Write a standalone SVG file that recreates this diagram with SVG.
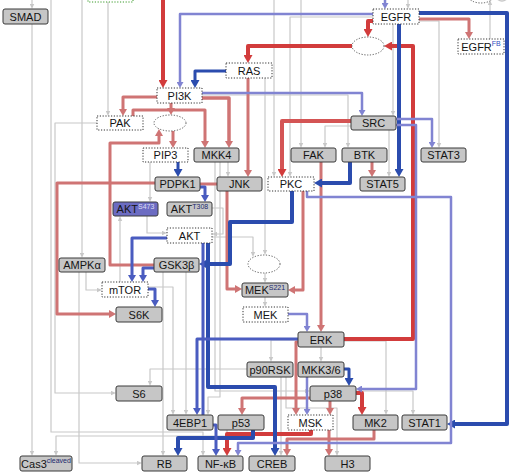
<svg xmlns="http://www.w3.org/2000/svg" width="519" height="475" viewBox="0 0 519 475">
<style>
.bg{fill:#ffffff}
.c{fill:none;stroke-linejoin:round}
.g{stroke:#c8c8c8;stroke-width:1.2}
.p{stroke:#cf7474;stroke-width:3}
.r{stroke:#d23c3c;stroke-width:4}
.b{stroke:#2b4cae;stroke-width:4}
.m{stroke:#4a5cc0;stroke-width:3}
.l{stroke:#8184d2;stroke-width:2.5}
.box{fill:#c6c6c6;stroke:#3a3a3a;stroke-width:1}
.dot{fill:#ffffff;stroke:#333;stroke-width:1;stroke-dasharray:1.2 1.6}
.ell{fill:#ffffff;stroke:#555;stroke-width:1;stroke-dasharray:1.2 1.6}
text{font-family:"Liberation Sans",Arial,sans-serif;font-size:11px;fill:#141414;text-anchor:middle}
.sup{font-size:7px;fill:#1c2a6e}
</style>
<defs>
<marker id="ag" markerUnits="userSpaceOnUse" markerWidth="5" markerHeight="5" viewBox="0 0 5 5" refX="0" refY="2.5" orient="auto"><path d="M0,0.3L5,2.5L0,4.7z" fill="#c8c8c8"/></marker>
<marker id="ap" markerUnits="userSpaceOnUse" markerWidth="7" markerHeight="8" viewBox="0 0 7 8" refX="0" refY="4" orient="auto"><path d="M0,0L7,4L0,8z" fill="#cf7474"/></marker>
<marker id="ar" markerUnits="userSpaceOnUse" markerWidth="8" markerHeight="9" viewBox="0 0 8 9" refX="0" refY="4.5" orient="auto"><path d="M0,0L8,4.5L0,9z" fill="#d23c3c"/></marker>
<marker id="ab" markerUnits="userSpaceOnUse" markerWidth="8" markerHeight="9" viewBox="0 0 8 9" refX="0" refY="4.5" orient="auto"><path d="M0,0L8,4.5L0,9z" fill="#2b4cae"/></marker>
<marker id="am" markerUnits="userSpaceOnUse" markerWidth="7" markerHeight="8" viewBox="0 0 7 8" refX="0" refY="4" orient="auto"><path d="M0,0L7,4L0,8z" fill="#4a5cc0"/></marker>
<marker id="al" markerUnits="userSpaceOnUse" markerWidth="6" markerHeight="7" viewBox="0 0 6 7" refX="0" refY="3.5" orient="auto"><path d="M0,0L6,3.5L0,7z" fill="#8184d2"/></marker>
</defs>
<rect class="bg" x="0" y="0" width="519" height="475"/>

<g id="connectors">
<!-- gray -->
<path class="c g" marker-end="url(#ag)" d="M32,-2V4"/>
<path class="c g" marker-end="url(#ag)" d="M32,24V451"/>
<path class="c g" marker-end="url(#ag)" d="M82,-2V253"/>
<path class="c g" marker-end="url(#ag)" d="M108,-2V111"/>
<path class="c g" marker-end="url(#ag)" d="M97,123H55V393H111"/>
<path class="c g" marker-end="url(#ag)" d="M51,-2V432H203V451"/>
<path class="c g" marker-end="url(#ag)" d="M227,430V436H56V451"/>
<path class="c g" marker-end="url(#ag)" d="M86,272V290H97"/>
<path class="c g" marker-end="url(#ag)" d="M79,272V463H137"/>
<path class="c g" marker-end="url(#ag)" d="M150,162V197"/>
<path class="c g" marker-end="url(#ag)" d="M147,216V233H162"/>
<path class="c g" marker-end="url(#ag)" d="M212,208H223V234H217"/>
<path class="c g" marker-end="url(#ag)" d="M120,282V221"/>
<path class="c g" marker-end="url(#ag)" d="M148,287H173V410"/>
<path class="c g" marker-end="url(#ag)" d="M163,272V451"/>
<path class="c g" marker-end="url(#ag)" d="M186,272V410"/>
<path class="c g" marker-end="url(#ag)" d="M228,162V172"/>
<path class="c g" marker-end="url(#ag)" d="M215,162V391H305"/>
<path class="c g" marker-end="url(#ag)" d="M220,162V397H208V410"/>
<path class="c g" marker-end="url(#ag)" d="M212,237H253V252"/>
<path class="c g" marker-end="url(#ag)" d="M265,78V250"/>
<path class="c g" marker-end="url(#ag)" d="M265,273V278"/>
<path class="c g" marker-end="url(#ag)" d="M265,297V302"/>
<path class="c g" marker-end="url(#ag)" d="M202,95H348V143"/>
<path class="c g" marker-end="url(#ag)" d="M393,24V111"/>
<path class="c g" marker-end="url(#ag)" d="M419,21H439V143"/>
<path class="c g" marker-end="url(#ag)" d="M373,17H290V172"/>
<path class="c g" marker-end="url(#ag)" d="M301,-2V143"/>
<path class="c g" marker-end="url(#ag)" d="M274,-2V172"/>
<path class="c g" marker-end="url(#ag)" d="M351,126H325V143"/>
<path class="c g" marker-end="url(#ag)" d="M389,130V172"/>
<path class="c g" marker-end="url(#ag)" d="M298,340H271V357"/>
<path class="c g" marker-end="url(#ag)" d="M321,347V357"/>
<path class="c g" marker-end="url(#ag)" d="M344,341H386V410"/>
<path class="c g" marker-end="url(#ag)" d="M356,391H413V410"/>
<path class="c g" marker-end="url(#ag)" d="M247,369H150V381"/>
<path class="c g" marker-end="url(#ag)" d="M281,377V451"/>
<path class="c g" marker-end="url(#ag)" d="M286,377V408H337V451"/>
<path class="c g" marker-end="url(#ag)" d="M490,39V5"/>
<path class="c g" d="M496,-2Q502,4 508,-2"/>
<path class="c g" marker-end="url(#ag)" d="M408,-2V4"/>
<!-- pink -->
<path class="c p" marker-end="url(#ap)" d="M157,97H123V109"/>
<path class="c p" marker-end="url(#ap)" d="M133,116V110H205V141"/>
<path class="c p" marker-end="url(#ap)" d="M171,103V108"/>
<path class="c p" style="stroke-width:3.5" marker-end="url(#ap)" d="M202,98H229V141"/>
<path class="c p" marker-end="url(#ap)" d="M173,131V141"/>
<path class="c p" marker-end="url(#ap)" d="M154,265H110V143H159V136"/>
<path class="c p" marker-end="url(#ap)" d="M155,183H57V314H109"/>
<path class="c p" marker-end="url(#ap)" d="M200,184H227V289H235"/>
<path class="c p" marker-end="url(#ap)" d="M303,191V290H295"/>
<path class="c p" marker-end="url(#ap)" d="M248,78V170"/>
<path class="c p" marker-end="url(#ap)" d="M419,19H469V32"/>
<path class="c p" marker-end="url(#ap)" d="M321,162V325"/>
<path class="c p" marker-end="url(#ap)" d="M372,162V170"/>
<path class="c p" marker-end="url(#ap)" d="M299,342H296V408"/>
<path class="c p" marker-end="url(#ap)" d="M330,401V408"/>
<path class="c p" marker-end="url(#ap)" d="M310,398H242V408"/>
<path class="c p" marker-end="url(#ap)" d="M329,430V449"/>
<path class="c p" marker-end="url(#ap)" d="M374,430V439H287V449"/>
<!-- red -->
<path class="c r" marker-end="url(#ar)" d="M163,-2V80"/>
<path class="c r" marker-end="url(#ar)" d="M352,46H248V55"/>
<path class="c r" marker-end="url(#ar)" d="M374,21H368V29"/>
<path class="c r" marker-end="url(#ar)" d="M344,339H413V46H392"/>
<path class="c r" marker-end="url(#ar)" d="M356,393H362V407"/>
<path class="c r" marker-end="url(#ar)" d="M311,430V434H227V448"/>
<path class="c r" style="stroke:#d45454" marker-end="url(#ar)" d="M351,121H282V169"/>
<!-- blue -->
<path class="c b" style="stroke-width:3" marker-end="url(#ab)" d="M226,71H195V80"/>
<path class="c b" marker-end="url(#ab)" d="M399,24V169"/>
<path class="c b" marker-end="url(#ab)" d="M419,13H507V424H455"/>
<path class="c b" marker-end="url(#ab)" d="M350,162V183H322"/>
<path class="c b" marker-end="url(#ab)" d="M292,191V222H230V264H207"/>
<path class="c b" marker-end="url(#ab)" d="M208,243V387H275V448"/>
<path class="c b" marker-end="url(#ab)" d="M253,430V438H178V448"/>
<path class="c b" style="stroke-width:3" marker-end="url(#ab)" d="M344,369H349V378"/>
<path class="c b" style="stroke-width:3" marker-end="url(#ab)" d="M178,162V169"/>
<!-- medium blue -->
<path class="c m" marker-end="url(#am)" d="M203,243V425H216V449"/>
<path class="c m" marker-end="url(#am)" d="M167,238H132V275"/>
<path class="c m" marker-end="url(#am)" d="M154,268H143V275"/>
<path class="c m" marker-end="url(#am)" d="M148,289H155V300"/>
<path class="c m" marker-end="url(#am)" d="M200,187H205V195"/>
<path class="c m" marker-end="url(#am)" d="M298,339H197V408"/>
<!-- lavender -->
<path class="c l" marker-end="url(#al)" d="M373,14H180V82"/>
<path class="c l" marker-end="url(#al)" d="M202,93H362V110"/>
<path class="c l" marker-end="url(#al)" d="M396,119H432V142"/>
<path class="c l" marker-end="url(#al)" d="M396,125H416V389H362"/>
<path class="c l" marker-end="url(#al)" d="M307,191V197H451V443H238V450"/>
<path class="c l" marker-end="url(#al)" d="M288,314H307V326"/>
<path class="c l" marker-end="url(#al)" d="M307,377V409"/>
<path class="c l" marker-end="url(#al)" d="M385,-2V3"/>
</g>

<g id="node-top-green"><rect x="88" y="-14" width="45" height="16" fill="#fff" stroke="#3a9a2a" stroke-width="1" stroke-dasharray="1.2 1.6"/></g>
<g id="node-top-ellipse"><ellipse class="ell" cx="481" cy="-6" rx="14" ry="9"/></g>
<g id="node-SMAD"><rect class="box" x="3" y="9" width="45" height="15" rx="2"/><text x="25.5" y="20.5">SMAD</text></g>
<g id="node-EGFR"><rect class="dot" x="373" y="9" width="46" height="15"/><text x="396" y="20.5">EGFR</text></g>
<g id="node-EGFRFB"><rect class="dot" x="458" y="39" width="46" height="15"/><text x="481" y="50.5">EGFR<tspan class="sup" style="fill:#3050c0" dy="-4.5">FB</tspan></text></g>
<g id="node-ellipse1"><ellipse class="ell" cx="368" cy="46" rx="16" ry="9"/></g>
<g id="node-RAS"><rect class="dot" x="226" y="63" width="46" height="15"/><text x="249" y="74.5">RAS</text></g>
<g id="node-PI3K"><rect class="dot" x="157" y="88" width="45" height="15"/><text x="179.5" y="99.5">PI3K</text></g>
<g id="node-PAK"><rect class="dot" x="97" y="116" width="46" height="14"/><text x="120" y="127">PAK</text></g>
<g id="node-ellipse2"><ellipse class="ell" cx="170" cy="123" rx="16" ry="8"/></g>
<g id="node-SRC"><rect class="box" x="351" y="116" width="45" height="14" rx="2"/><text x="373.5" y="127">SRC</text></g>
<g id="node-PIP3"><rect class="dot" x="143" y="148" width="45" height="14"/><text x="165.5" y="159">PIP3</text></g>
<g id="node-MKK4"><rect class="box" x="194" y="148" width="45" height="14" rx="2"/><text x="216.5" y="159">MKK4</text></g>
<g id="node-FAK"><rect class="box" x="291" y="148" width="45" height="14" rx="2"/><text x="313.5" y="159">FAK</text></g>
<g id="node-BTK"><rect class="box" x="342" y="148" width="45" height="14" rx="2"/><text x="364.5" y="159">BTK</text></g>
<g id="node-STAT3"><rect class="box" x="421" y="148" width="45" height="14" rx="2"/><text x="443.5" y="159">STAT3</text></g>
<g id="node-PDPK1"><rect class="box" x="155" y="177" width="45" height="14" rx="2"/><text x="177.5" y="188">PDPK1</text></g>
<g id="node-JNK"><rect class="box" x="217" y="177" width="45" height="14" rx="2"/><text x="239.5" y="188">JNK</text></g>
<g id="node-PKC"><rect class="dot" x="268" y="177" width="46" height="14"/><text x="291" y="188">PKC</text></g>
<g id="node-STAT5"><rect class="box" x="360" y="177" width="45" height="14" rx="2"/><text x="382.5" y="188">STAT5</text></g>
<g id="node-AKTS473"><rect class="box" style="fill:#6c6cc2" x="113" y="202" width="45" height="14" rx="2"/><text x="135.5" y="213">AKT<tspan class="sup" style="fill:#dcdcf4" dy="-4.5">S473</tspan></text></g>
<g id="node-AKTT308"><rect class="box" x="167" y="202" width="45" height="14" rx="2"/><text x="189.5" y="213">AKT<tspan class="sup" dy="-4.5">T308</tspan></text></g>
<g id="node-AKT"><rect class="dot" x="167" y="228" width="45" height="15"/><text x="189.5" y="239.5">AKT</text></g>
<g id="node-AMPKa"><rect class="box" x="59" y="258" width="46" height="14" rx="2"/><text x="82" y="269">AMPKα</text></g>
<g id="node-GSK3b"><rect class="box" x="154" y="258" width="45" height="14" rx="2"/><text x="176.5" y="269">GSK3β</text></g>
<g id="node-ellipse3"><ellipse class="ell" cx="264" cy="264" rx="16" ry="9"/></g>
<g id="node-mTOR"><rect class="dot" x="102" y="282" width="46" height="15"/><text x="125" y="293.5">mTOR</text></g>
<g id="node-MEKS221"><rect class="box" x="242" y="283" width="46" height="14" rx="2"/><text x="265" y="294">MEK<tspan class="sup" dy="-4.5">S221</tspan></text></g>
<g id="node-MEK"><rect class="dot" x="243" y="307" width="45" height="15"/><text x="265.5" y="318.5">MEK</text></g>
<g id="node-S6K"><rect class="box" x="116" y="307" width="46" height="15" rx="2"/><text x="139" y="318.5">S6K</text></g>
<g id="node-ERK"><rect class="box" x="298" y="332" width="46" height="15" rx="2"/><text x="321" y="343.5">ERK</text></g>
<g id="node-p90RSK"><rect class="box" x="247" y="362" width="46" height="15" rx="2"/><text x="270" y="373.5">p90RSK</text></g>
<g id="node-MKK36"><rect class="box" x="298" y="362" width="46" height="15" rx="2"/><text x="321" y="373.5">MKK3/6</text></g>
<g id="node-p38"><rect class="box" x="310" y="386" width="46" height="15" rx="2"/><text x="333" y="397.5">p38</text></g>
<g id="node-S6"><rect class="box" x="116" y="386" width="46" height="15" rx="2"/><text x="139" y="397.5">S6</text></g>
<g id="node-4EBP1"><rect class="box" x="167" y="415" width="46" height="15" rx="2"/><text x="190" y="426.5">4EBP1</text></g>
<g id="node-p53"><rect class="box" x="218" y="415" width="46" height="15" rx="2"/><text x="241" y="426.5">p53</text></g>
<g id="node-MSK"><rect class="dot" x="288" y="415" width="45" height="15"/><text x="310.5" y="426.5">MSK</text></g>
<g id="node-MK2"><rect class="box" x="353" y="415" width="45" height="15" rx="2"/><text x="375.5" y="426.5">MK2</text></g>
<g id="node-STAT1"><rect class="box" x="402" y="415" width="45" height="15" rx="2"/><text x="424.5" y="426.5">STAT1</text></g>
<g id="node-Cas3"><rect class="box" x="20" y="456" width="52" height="15" rx="2"/><text x="46" y="467.5">Cas3<tspan class="sup" dy="-4.5">cleaved</tspan></text></g>
<g id="node-RB"><rect class="box" x="142" y="456" width="45" height="15" rx="2"/><text x="164.5" y="467.5">RB</text></g>
<g id="node-NFkB"><rect class="box" x="198" y="456" width="45" height="15" rx="2"/><text x="220.5" y="467.5">NF-κB</text></g>
<g id="node-CREB"><rect class="box" x="249" y="456" width="46" height="15" rx="2"/><text x="272" y="467.5">CREB</text></g>
<g id="node-H3"><rect class="box" x="325" y="456" width="45" height="15" rx="2"/><text x="347.5" y="467.5">H3</text></g>
</svg>
